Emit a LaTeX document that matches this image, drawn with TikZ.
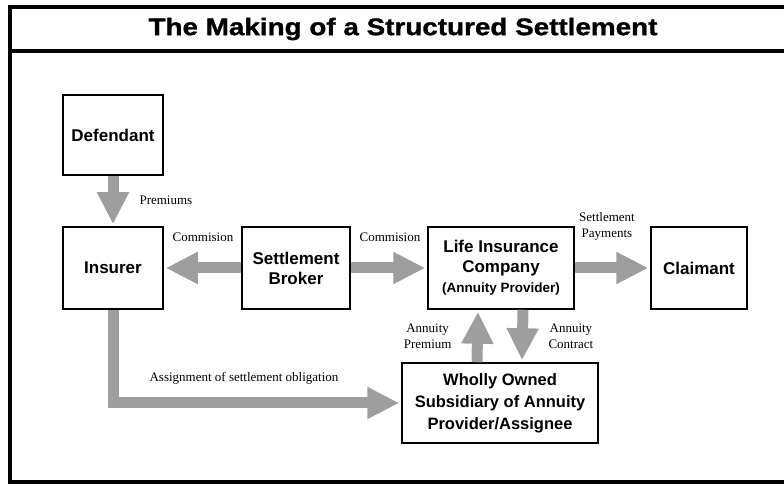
\documentclass[tikz,border=0pt]{standalone}
\usepackage{fontspec}
\setmainfont{Liberation Serif}
\setsansfont{Liberation Sans}
\newfontfamily\titlefont[FakeStretch=1.16, FakeBold=1.2]{Liberation Sans Bold}
\usetikzlibrary{arrows.meta}
\begin{document}
\begin{tikzpicture}[x=1pt,y=1pt,
box/.style={draw, line width=1.5pt, align=center, inner sep=0pt,
  font=\sffamily\bfseries\fontsize{17}{20}\selectfont},
fat/.style={line width=11pt, draw=black!38, shorten >=2pt,
  -{Triangle[length=32pt,width=30pt]}},
lbl/.style={align=center, font=\fontsize{13}{16}\selectfont}]
\useasboundingbox (0,0) rectangle (784,486);
\draw[line width=3.5pt] (784,479) -- (10,479) -- (10,4) -- (784,4);
\draw[line width=3.5pt] (10,435) -- (784,435);
\node[font=\titlefont\fontsize{24}{28}\selectfont] (title) at (403,457) {The Making of a Structured Settlement};
\node[box, minimum width=100pt, minimum height=80pt] (defendant) at (113,351) {Defendant};
\node[box, minimum width=100pt, minimum height=82pt] (insurer) at (113,218) {Insurer};
\node[box, minimum width=108pt, minimum height=82pt] (broker) at (296,218) {Settlement\\Broker};
\node[box, minimum width=146pt, minimum height=82pt] (life) at (501,218) {Life Insurance\\Company\\{\fontsize{13.5}{20}\selectfont(Annuity Provider)}};
\node[box, minimum width=96pt, minimum height=82pt] (claimant) at (699,218) {Claimant};
\node[box, minimum width=196pt, minimum height=80pt,
  font=\sffamily\bfseries\fontsize{16.5}{22}\selectfont] (owned) at (500,83) {Wholly Owned\\Subsidiary of Annuity\\Provider/Assignee};
\draw[fat] (defendant) -- (insurer);
\draw[fat] (broker) -- (insurer);
\draw[fat] (broker) -- (life);
\draw[fat] (life) -- (claimant);
\draw[fat] ([xshift=-23pt]owned.north) -- ([xshift=-23pt]life.south);
\draw[fat] ([xshift=22pt]life.south) -- ([xshift=22pt]owned.north);
\draw[fat, line join=miter] (insurer.south) |- (owned.west);
\node[lbl, anchor=west] (premiums) at (136,286) {Premiums};
\node[lbl] (commleft) at (203,249) {Commision};
\node[lbl] (commright) at (390,249) {Commision};
\node[lbl] (payments) at (607,260) {Settlement\\Payments};
\node[lbl, anchor=east] (apremium) at (455,150) {Annuity\\Premium};
\node[lbl, anchor=west] (acontract) at (545,150) {Annuity\\Contract};
\node[lbl] (assign) at (244,108) {Assignment of settlement obligation};
\end{tikzpicture}
\end{document}
